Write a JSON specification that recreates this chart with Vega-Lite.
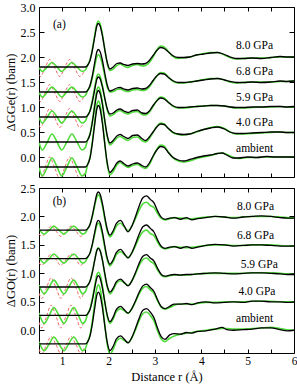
{
"$schema":"https://vega.github.io/schema/vega-lite/v6.json",
"background":"white",
"padding":{"left":3,"right":2,"top":0,"bottom":0},
"spacing":3,
"config":{"view":{"stroke":"black","strokeWidth":1},"font":"Liberation Serif",
"axis":{"grid":false,"domain":false,"tickColor":"black","labelColor":"black","titleColor":"black","labelFont":"Liberation Serif","titleFont":"Liberation Serif","labelFontSize":12,"titleFontSize":12.5,"titleFontWeight":"normal"},
"text":{"font":"Liberation Serif"}},
"data":{"values":[
{"g":"a","s":"k","p":"8.0","r":0.5,"y":1.8},{"g":"a","s":"k","p":"8.0","r":1.5,"y":1.8},{"g":"a","s":"k","p":"8.0","r":1.55,"y":1.835},{"g":"a","s":"k","p":"8.0","r":1.6,"y":1.93},{"g":"a","s":"k","p":"8.0","r":1.65,"y":2.13},{"g":"a","s":"k","p":"8.0","r":1.7,"y":2.39},{"g":"a","s":"k","p":"8.0","r":1.75,"y":2.63},{"g":"a","s":"k","p":"8.0","r":1.78,"y":2.67},{"g":"a","s":"k","p":"8.0","r":1.82,"y":2.615},{"g":"a","s":"k","p":"8.0","r":1.87,"y":2.415},{"g":"a","s":"k","p":"8.0","r":1.92,"y":2.142},{"g":"a","s":"k","p":"8.0","r":1.97,"y":1.9},{"g":"a","s":"k","p":"8.0","r":2.03,"y":1.76},{"g":"a","s":"k","p":"8.0","r":2.1,"y":1.8},{"g":"a","s":"k","p":"8.0","r":2.18,"y":1.87},{"g":"a","s":"k","p":"8.0","r":2.25,"y":1.88},{"g":"a","s":"k","p":"8.0","r":2.33,"y":1.85},{"g":"a","s":"k","p":"8.0","r":2.42,"y":1.83},{"g":"a","s":"k","p":"8.0","r":2.52,"y":1.86},{"g":"a","s":"k","p":"8.0","r":2.62,"y":1.87},{"g":"a","s":"k","p":"8.0","r":2.72,"y":1.86},{"g":"a","s":"k","p":"8.0","r":2.8,"y":1.87},{"g":"a","s":"k","p":"8.0","r":2.88,"y":1.93},{"g":"a","s":"k","p":"8.0","r":2.96,"y":2.03},{"g":"a","s":"k","p":"8.0","r":3.04,"y":2.13},{"g":"a","s":"k","p":"8.0","r":3.12,"y":2.19},{"g":"a","s":"k","p":"8.0","r":3.2,"y":2.17},{"g":"a","s":"k","p":"8.0","r":3.28,"y":2.11},{"g":"a","s":"k","p":"8.0","r":3.38,"y":2.03},{"g":"a","s":"k","p":"8.0","r":3.5,"y":1.99},{"g":"a","s":"k","p":"8.0","r":3.62,"y":1.99},{"g":"a","s":"k","p":"8.0","r":3.75,"y":2.0},{"g":"a","s":"k","p":"8.0","r":3.9,"y":2.04},{"g":"a","s":"k","p":"8.0","r":4.05,"y":2.06},{"g":"a","s":"k","p":"8.0","r":4.2,"y":2.08},{"g":"a","s":"k","p":"8.0","r":4.35,"y":2.09},{"g":"a","s":"k","p":"8.0","r":4.5,"y":2.05},{"g":"a","s":"k","p":"8.0","r":4.62,"y":2.0},{"g":"a","s":"k","p":"8.0","r":4.75,"y":1.97},{"g":"a","s":"k","p":"8.0","r":4.9,"y":1.97},{"g":"a","s":"k","p":"8.0","r":5.1,"y":1.98},{"g":"a","s":"k","p":"8.0","r":5.3,"y":1.97},{"g":"a","s":"k","p":"8.0","r":5.5,"y":1.99},{"g":"a","s":"k","p":"8.0","r":5.7,"y":2.01},{"g":"a","s":"k","p":"8.0","r":5.85,"y":2.0},{"g":"a","s":"k","p":"8.0","r":6.0,"y":2.0},
{"g":"a","s":"k","p":"6.8","r":0.5,"y":1.3},{"g":"a","s":"k","p":"6.8","r":1.5,"y":1.3},{"g":"a","s":"k","p":"6.8","r":1.55,"y":1.334},{"g":"a","s":"k","p":"6.8","r":1.6,"y":1.43},{"g":"a","s":"k","p":"6.8","r":1.65,"y":1.62},{"g":"a","s":"k","p":"6.8","r":1.7,"y":1.88},{"g":"a","s":"k","p":"6.8","r":1.75,"y":2.11},{"g":"a","s":"k","p":"6.8","r":1.78,"y":2.15},{"g":"a","s":"k","p":"6.8","r":1.82,"y":2.1},{"g":"a","s":"k","p":"6.8","r":1.87,"y":1.92},{"g":"a","s":"k","p":"6.8","r":1.92,"y":1.67},{"g":"a","s":"k","p":"6.8","r":1.97,"y":1.445},{"g":"a","s":"k","p":"6.8","r":2.03,"y":1.32},{"g":"a","s":"k","p":"6.8","r":2.1,"y":1.34},{"g":"a","s":"k","p":"6.8","r":2.18,"y":1.38},{"g":"a","s":"k","p":"6.8","r":2.25,"y":1.39},{"g":"a","s":"k","p":"6.8","r":2.33,"y":1.36},{"g":"a","s":"k","p":"6.8","r":2.42,"y":1.34},{"g":"a","s":"k","p":"6.8","r":2.52,"y":1.37},{"g":"a","s":"k","p":"6.8","r":2.62,"y":1.38},{"g":"a","s":"k","p":"6.8","r":2.72,"y":1.36},{"g":"a","s":"k","p":"6.8","r":2.8,"y":1.37},{"g":"a","s":"k","p":"6.8","r":2.88,"y":1.43},{"g":"a","s":"k","p":"6.8","r":2.96,"y":1.53},{"g":"a","s":"k","p":"6.8","r":3.04,"y":1.62},{"g":"a","s":"k","p":"6.8","r":3.12,"y":1.67},{"g":"a","s":"k","p":"6.8","r":3.2,"y":1.66},{"g":"a","s":"k","p":"6.8","r":3.28,"y":1.6},{"g":"a","s":"k","p":"6.8","r":3.38,"y":1.53},{"g":"a","s":"k","p":"6.8","r":3.5,"y":1.49},{"g":"a","s":"k","p":"6.8","r":3.62,"y":1.49},{"g":"a","s":"k","p":"6.8","r":3.75,"y":1.5},{"g":"a","s":"k","p":"6.8","r":3.9,"y":1.52},{"g":"a","s":"k","p":"6.8","r":4.05,"y":1.54},{"g":"a","s":"k","p":"6.8","r":4.2,"y":1.56},{"g":"a","s":"k","p":"6.8","r":4.35,"y":1.57},{"g":"a","s":"k","p":"6.8","r":4.5,"y":1.54},{"g":"a","s":"k","p":"6.8","r":4.62,"y":1.51},{"g":"a","s":"k","p":"6.8","r":4.75,"y":1.49},{"g":"a","s":"k","p":"6.8","r":4.9,"y":1.49},{"g":"a","s":"k","p":"6.8","r":5.1,"y":1.5},{"g":"a","s":"k","p":"6.8","r":5.3,"y":1.49},{"g":"a","s":"k","p":"6.8","r":5.5,"y":1.5},{"g":"a","s":"k","p":"6.8","r":5.7,"y":1.52},{"g":"a","s":"k","p":"6.8","r":5.85,"y":1.51},{"g":"a","s":"k","p":"6.8","r":6.0,"y":1.52},
{"g":"a","s":"k","p":"5.9","r":0.5,"y":0.8},{"g":"a","s":"k","p":"5.9","r":1.5,"y":0.8},{"g":"a","s":"k","p":"5.9","r":1.55,"y":0.832},{"g":"a","s":"k","p":"5.9","r":1.6,"y":0.92},{"g":"a","s":"k","p":"5.9","r":1.65,"y":1.1},{"g":"a","s":"k","p":"5.9","r":1.7,"y":1.34},{"g":"a","s":"k","p":"5.9","r":1.75,"y":1.56},{"g":"a","s":"k","p":"5.9","r":1.78,"y":1.6},{"g":"a","s":"k","p":"5.9","r":1.82,"y":1.56},{"g":"a","s":"k","p":"5.9","r":1.87,"y":1.39},{"g":"a","s":"k","p":"5.9","r":1.92,"y":1.17},{"g":"a","s":"k","p":"5.9","r":1.97,"y":0.97},{"g":"a","s":"k","p":"5.9","r":2.03,"y":0.86},{"g":"a","s":"k","p":"5.9","r":2.1,"y":0.88},{"g":"a","s":"k","p":"5.9","r":2.18,"y":0.94},{"g":"a","s":"k","p":"5.9","r":2.25,"y":0.96},{"g":"a","s":"k","p":"5.9","r":2.33,"y":0.92},{"g":"a","s":"k","p":"5.9","r":2.42,"y":0.89},{"g":"a","s":"k","p":"5.9","r":2.52,"y":0.93},{"g":"a","s":"k","p":"5.9","r":2.62,"y":0.94},{"g":"a","s":"k","p":"5.9","r":2.72,"y":0.88},{"g":"a","s":"k","p":"5.9","r":2.8,"y":0.87},{"g":"a","s":"k","p":"5.9","r":2.88,"y":0.92},{"g":"a","s":"k","p":"5.9","r":2.96,"y":1.03},{"g":"a","s":"k","p":"5.9","r":3.04,"y":1.12},{"g":"a","s":"k","p":"5.9","r":3.12,"y":1.18},{"g":"a","s":"k","p":"5.9","r":3.2,"y":1.16},{"g":"a","s":"k","p":"5.9","r":3.28,"y":1.1},{"g":"a","s":"k","p":"5.9","r":3.38,"y":1.03},{"g":"a","s":"k","p":"5.9","r":3.5,"y":0.99},{"g":"a","s":"k","p":"5.9","r":3.62,"y":0.99},{"g":"a","s":"k","p":"5.9","r":3.75,"y":1.0},{"g":"a","s":"k","p":"5.9","r":3.9,"y":1.01},{"g":"a","s":"k","p":"5.9","r":4.05,"y":1.02},{"g":"a","s":"k","p":"5.9","r":4.2,"y":1.03},{"g":"a","s":"k","p":"5.9","r":4.35,"y":1.03},{"g":"a","s":"k","p":"5.9","r":4.5,"y":1.02},{"g":"a","s":"k","p":"5.9","r":4.62,"y":1.0},{"g":"a","s":"k","p":"5.9","r":4.75,"y":0.99},{"g":"a","s":"k","p":"5.9","r":4.9,"y":0.99},{"g":"a","s":"k","p":"5.9","r":5.1,"y":1.0},{"g":"a","s":"k","p":"5.9","r":5.3,"y":1.0},{"g":"a","s":"k","p":"5.9","r":5.5,"y":1.01},{"g":"a","s":"k","p":"5.9","r":5.7,"y":1.01},{"g":"a","s":"k","p":"5.9","r":5.85,"y":1.0},{"g":"a","s":"k","p":"5.9","r":6.0,"y":1.01},
{"g":"a","s":"k","p":"4.0","r":0.5,"y":0.3},{"g":"a","s":"k","p":"4.0","r":1.5,"y":0.3},{"g":"a","s":"k","p":"4.0","r":1.55,"y":0.34},{"g":"a","s":"k","p":"4.0","r":1.6,"y":0.45},{"g":"a","s":"k","p":"4.0","r":1.65,"y":0.69},{"g":"a","s":"k","p":"4.0","r":1.7,"y":1.0},{"g":"a","s":"k","p":"4.0","r":1.75,"y":1.28},{"g":"a","s":"k","p":"4.0","r":1.78,"y":1.33},{"g":"a","s":"k","p":"4.0","r":1.82,"y":1.27},{"g":"a","s":"k","p":"4.0","r":1.87,"y":1.04},{"g":"a","s":"k","p":"4.0","r":1.92,"y":0.72},{"g":"a","s":"k","p":"4.0","r":1.97,"y":0.44},{"g":"a","s":"k","p":"4.0","r":2.03,"y":0.28},{"g":"a","s":"k","p":"4.0","r":2.1,"y":0.33},{"g":"a","s":"k","p":"4.0","r":2.18,"y":0.42},{"g":"a","s":"k","p":"4.0","r":2.25,"y":0.45},{"g":"a","s":"k","p":"4.0","r":2.33,"y":0.41},{"g":"a","s":"k","p":"4.0","r":2.42,"y":0.37},{"g":"a","s":"k","p":"4.0","r":2.52,"y":0.43},{"g":"a","s":"k","p":"4.0","r":2.62,"y":0.44},{"g":"a","s":"k","p":"4.0","r":2.72,"y":0.37},{"g":"a","s":"k","p":"4.0","r":2.8,"y":0.33},{"g":"a","s":"k","p":"4.0","r":2.88,"y":0.4},{"g":"a","s":"k","p":"4.0","r":2.96,"y":0.5},{"g":"a","s":"k","p":"4.0","r":3.04,"y":0.6},{"g":"a","s":"k","p":"4.0","r":3.12,"y":0.66},{"g":"a","s":"k","p":"4.0","r":3.2,"y":0.65},{"g":"a","s":"k","p":"4.0","r":3.28,"y":0.58},{"g":"a","s":"k","p":"4.0","r":3.38,"y":0.5},{"g":"a","s":"k","p":"4.0","r":3.5,"y":0.46},{"g":"a","s":"k","p":"4.0","r":3.62,"y":0.45},{"g":"a","s":"k","p":"4.0","r":3.75,"y":0.46},{"g":"a","s":"k","p":"4.0","r":3.9,"y":0.51},{"g":"a","s":"k","p":"4.0","r":4.05,"y":0.55},{"g":"a","s":"k","p":"4.0","r":4.2,"y":0.58},{"g":"a","s":"k","p":"4.0","r":4.35,"y":0.6},{"g":"a","s":"k","p":"4.0","r":4.5,"y":0.56},{"g":"a","s":"k","p":"4.0","r":4.62,"y":0.5},{"g":"a","s":"k","p":"4.0","r":4.75,"y":0.47},{"g":"a","s":"k","p":"4.0","r":4.9,"y":0.47},{"g":"a","s":"k","p":"4.0","r":5.1,"y":0.48},{"g":"a","s":"k","p":"4.0","r":5.3,"y":0.49},{"g":"a","s":"k","p":"4.0","r":5.5,"y":0.5},{"g":"a","s":"k","p":"4.0","r":5.7,"y":0.5},{"g":"a","s":"k","p":"4.0","r":5.85,"y":0.49},{"g":"a","s":"k","p":"4.0","r":6.0,"y":0.49},
{"g":"a","s":"k","p":"amb","r":0.5,"y":-0.2},{"g":"a","s":"k","p":"amb","r":1.5,"y":-0.2},{"g":"a","s":"k","p":"amb","r":1.55,"y":-0.15},{"g":"a","s":"k","p":"amb","r":1.6,"y":-0.02},{"g":"a","s":"k","p":"amb","r":1.65,"y":0.27},{"g":"a","s":"k","p":"amb","r":1.7,"y":0.64},{"g":"a","s":"k","p":"amb","r":1.75,"y":0.97},{"g":"a","s":"k","p":"amb","r":1.78,"y":1.03},{"g":"a","s":"k","p":"amb","r":1.82,"y":0.95},{"g":"a","s":"k","p":"amb","r":1.87,"y":0.655},{"g":"a","s":"k","p":"amb","r":1.92,"y":0.25},{"g":"a","s":"k","p":"amb","r":1.97,"y":-0.11},{"g":"a","s":"k","p":"amb","r":2.03,"y":-0.31},{"g":"a","s":"k","p":"amb","r":2.1,"y":-0.24},{"g":"a","s":"k","p":"amb","r":2.18,"y":-0.12},{"g":"a","s":"k","p":"amb","r":2.25,"y":-0.08},{"g":"a","s":"k","p":"amb","r":2.33,"y":-0.13},{"g":"a","s":"k","p":"amb","r":2.42,"y":-0.18},{"g":"a","s":"k","p":"amb","r":2.52,"y":-0.14},{"g":"a","s":"k","p":"amb","r":2.62,"y":-0.12},{"g":"a","s":"k","p":"amb","r":2.72,"y":-0.17},{"g":"a","s":"k","p":"amb","r":2.8,"y":-0.2},{"g":"a","s":"k","p":"amb","r":2.88,"y":-0.12},{"g":"a","s":"k","p":"amb","r":2.96,"y":0.02},{"g":"a","s":"k","p":"amb","r":3.04,"y":0.14},{"g":"a","s":"k","p":"amb","r":3.12,"y":0.21},{"g":"a","s":"k","p":"amb","r":3.2,"y":0.19},{"g":"a","s":"k","p":"amb","r":3.28,"y":0.1},{"g":"a","s":"k","p":"amb","r":3.38,"y":0.0},{"g":"a","s":"k","p":"amb","r":3.5,"y":-0.06},{"g":"a","s":"k","p":"amb","r":3.62,"y":-0.08},{"g":"a","s":"k","p":"amb","r":3.75,"y":-0.05},{"g":"a","s":"k","p":"amb","r":3.9,"y":-0.01},{"g":"a","s":"k","p":"amb","r":4.05,"y":0.02},{"g":"a","s":"k","p":"amb","r":4.2,"y":0.04},{"g":"a","s":"k","p":"amb","r":4.35,"y":0.07},{"g":"a","s":"k","p":"amb","r":4.45,"y":0.08},{"g":"a","s":"k","p":"amb","r":4.55,"y":0.04},{"g":"a","s":"k","p":"amb","r":4.68,"y":-0.02},{"g":"a","s":"k","p":"amb","r":4.8,"y":-0.02},{"g":"a","s":"k","p":"amb","r":5.0,"y":0.0},{"g":"a","s":"k","p":"amb","r":5.2,"y":-0.01},{"g":"a","s":"k","p":"amb","r":5.4,"y":0.01},{"g":"a","s":"k","p":"amb","r":5.6,"y":0.0},{"g":"a","s":"k","p":"amb","r":5.8,"y":0.0},{"g":"a","s":"k","p":"amb","r":6.0,"y":0.0},

{"g":"a","s":"g","p":"8.0","r":0.5,"y":1.8},{"g":"a","s":"g","p":"8.0","r":0.57,"y":1.71},{"g":"a","s":"g","p":"8.0","r":0.68,"y":1.8},{"g":"a","s":"g","p":"8.0","r":0.78,"y":1.89},{"g":"a","s":"g","p":"8.0","r":0.89,"y":1.8},{"g":"a","s":"g","p":"8.0","r":0.99,"y":1.71},{"g":"a","s":"g","p":"8.0","r":1.1,"y":1.8},{"g":"a","s":"g","p":"8.0","r":1.21,"y":1.89},{"g":"a","s":"g","p":"8.0","r":1.32,"y":1.8},{"g":"a","s":"g","p":"8.0","r":1.43,"y":1.71},{"g":"a","s":"g","p":"8.0","r":1.5,"y":1.74},{"g":"a","s":"g","p":"8.0","r":1.55,"y":1.84},{"g":"a","s":"g","p":"8.0","r":1.6,"y":1.94},{"g":"a","s":"g","p":"8.0","r":1.65,"y":2.15},{"g":"a","s":"g","p":"8.0","r":1.7,"y":2.43},{"g":"a","s":"g","p":"8.0","r":1.75,"y":2.67},{"g":"a","s":"g","p":"8.0","r":1.78,"y":2.72},{"g":"a","s":"g","p":"8.0","r":1.82,"y":2.66},{"g":"a","s":"g","p":"8.0","r":1.87,"y":2.44},{"g":"a","s":"g","p":"8.0","r":1.92,"y":2.15},{"g":"a","s":"g","p":"8.0","r":1.97,"y":1.88},{"g":"a","s":"g","p":"8.0","r":2.03,"y":1.73},{"g":"a","s":"g","p":"8.0","r":2.1,"y":1.76},{"g":"a","s":"g","p":"8.0","r":2.18,"y":1.83},{"g":"a","s":"g","p":"8.0","r":2.25,"y":1.86},{"g":"a","s":"g","p":"8.0","r":2.33,"y":1.82},{"g":"a","s":"g","p":"8.0","r":2.42,"y":1.79},{"g":"a","s":"g","p":"8.0","r":2.52,"y":1.83},{"g":"a","s":"g","p":"8.0","r":2.62,"y":1.85},{"g":"a","s":"g","p":"8.0","r":2.72,"y":1.82},{"g":"a","s":"g","p":"8.0","r":2.8,"y":1.83},{"g":"a","s":"g","p":"8.0","r":2.88,"y":1.89},{"g":"a","s":"g","p":"8.0","r":2.96,"y":2.0},{"g":"a","s":"g","p":"8.0","r":3.04,"y":2.14},{"g":"a","s":"g","p":"8.0","r":3.12,"y":2.22},{"g":"a","s":"g","p":"8.0","r":3.2,"y":2.2},{"g":"a","s":"g","p":"8.0","r":3.28,"y":2.12},{"g":"a","s":"g","p":"8.0","r":3.38,"y":2.02},{"g":"a","s":"g","p":"8.0","r":3.5,"y":1.97},{"g":"a","s":"g","p":"8.0","r":3.62,"y":1.98},{"g":"a","s":"g","p":"8.0","r":3.75,"y":2.0},{"g":"a","s":"g","p":"8.0","r":3.9,"y":2.04},{"g":"a","s":"g","p":"8.0","r":4.05,"y":2.07},{"g":"a","s":"g","p":"8.0","r":4.2,"y":2.09},{"g":"a","s":"g","p":"8.0","r":4.35,"y":2.09},{"g":"a","s":"g","p":"8.0","r":4.5,"y":2.04},{"g":"a","s":"g","p":"8.0","r":4.62,"y":1.99},{"g":"a","s":"g","p":"8.0","r":4.75,"y":1.96},{"g":"a","s":"g","p":"8.0","r":4.9,"y":1.97},{"g":"a","s":"g","p":"8.0","r":5.1,"y":1.98},{"g":"a","s":"g","p":"8.0","r":5.3,"y":1.98},{"g":"a","s":"g","p":"8.0","r":5.5,"y":1.99},{"g":"a","s":"g","p":"8.0","r":5.7,"y":2.0},{"g":"a","s":"g","p":"8.0","r":5.85,"y":2.0},{"g":"a","s":"g","p":"8.0","r":6.0,"y":2.0},
{"g":"a","s":"g","p":"6.8","r":0.5,"y":1.3},{"g":"a","s":"g","p":"6.8","r":0.57,"y":1.2},{"g":"a","s":"g","p":"6.8","r":0.68,"y":1.3},{"g":"a","s":"g","p":"6.8","r":0.78,"y":1.4},{"g":"a","s":"g","p":"6.8","r":0.89,"y":1.3},{"g":"a","s":"g","p":"6.8","r":0.99,"y":1.2},{"g":"a","s":"g","p":"6.8","r":1.1,"y":1.3},{"g":"a","s":"g","p":"6.8","r":1.21,"y":1.4},{"g":"a","s":"g","p":"6.8","r":1.32,"y":1.3},{"g":"a","s":"g","p":"6.8","r":1.43,"y":1.2},{"g":"a","s":"g","p":"6.8","r":1.5,"y":1.23},{"g":"a","s":"g","p":"6.8","r":1.55,"y":1.33},{"g":"a","s":"g","p":"6.8","r":1.6,"y":1.41},{"g":"a","s":"g","p":"6.8","r":1.65,"y":1.585},{"g":"a","s":"g","p":"6.8","r":1.7,"y":1.81},{"g":"a","s":"g","p":"6.8","r":1.75,"y":2.01},{"g":"a","s":"g","p":"6.8","r":1.78,"y":2.05},{"g":"a","s":"g","p":"6.8","r":1.82,"y":2.0},{"g":"a","s":"g","p":"6.8","r":1.87,"y":1.84},{"g":"a","s":"g","p":"6.8","r":1.92,"y":1.615},{"g":"a","s":"g","p":"6.8","r":1.97,"y":1.41},{"g":"a","s":"g","p":"6.8","r":2.03,"y":1.3},{"g":"a","s":"g","p":"6.8","r":2.1,"y":1.31},{"g":"a","s":"g","p":"6.8","r":2.18,"y":1.35},{"g":"a","s":"g","p":"6.8","r":2.25,"y":1.36},{"g":"a","s":"g","p":"6.8","r":2.33,"y":1.33},{"g":"a","s":"g","p":"6.8","r":2.42,"y":1.31},{"g":"a","s":"g","p":"6.8","r":2.52,"y":1.34},{"g":"a","s":"g","p":"6.8","r":2.62,"y":1.35},{"g":"a","s":"g","p":"6.8","r":2.72,"y":1.33},{"g":"a","s":"g","p":"6.8","r":2.8,"y":1.34},{"g":"a","s":"g","p":"6.8","r":2.88,"y":1.4},{"g":"a","s":"g","p":"6.8","r":2.96,"y":1.51},{"g":"a","s":"g","p":"6.8","r":3.04,"y":1.62},{"g":"a","s":"g","p":"6.8","r":3.12,"y":1.69},{"g":"a","s":"g","p":"6.8","r":3.2,"y":1.68},{"g":"a","s":"g","p":"6.8","r":3.28,"y":1.61},{"g":"a","s":"g","p":"6.8","r":3.38,"y":1.52},{"g":"a","s":"g","p":"6.8","r":3.5,"y":1.48},{"g":"a","s":"g","p":"6.8","r":3.62,"y":1.48},{"g":"a","s":"g","p":"6.8","r":3.75,"y":1.5},{"g":"a","s":"g","p":"6.8","r":3.9,"y":1.52},{"g":"a","s":"g","p":"6.8","r":4.05,"y":1.55},{"g":"a","s":"g","p":"6.8","r":4.2,"y":1.57},{"g":"a","s":"g","p":"6.8","r":4.35,"y":1.57},{"g":"a","s":"g","p":"6.8","r":4.5,"y":1.54},{"g":"a","s":"g","p":"6.8","r":4.62,"y":1.5},{"g":"a","s":"g","p":"6.8","r":4.75,"y":1.48},{"g":"a","s":"g","p":"6.8","r":4.9,"y":1.49},{"g":"a","s":"g","p":"6.8","r":5.1,"y":1.5},{"g":"a","s":"g","p":"6.8","r":5.3,"y":1.5},{"g":"a","s":"g","p":"6.8","r":5.5,"y":1.5},{"g":"a","s":"g","p":"6.8","r":5.7,"y":1.51},{"g":"a","s":"g","p":"6.8","r":5.85,"y":1.51},{"g":"a","s":"g","p":"6.8","r":6.0,"y":1.52},
{"g":"a","s":"g","p":"5.9","r":0.5,"y":0.8},{"g":"a","s":"g","p":"5.9","r":0.57,"y":0.68},{"g":"a","s":"g","p":"5.9","r":0.68,"y":0.8},{"g":"a","s":"g","p":"5.9","r":0.78,"y":0.92},{"g":"a","s":"g","p":"5.9","r":0.89,"y":0.8},{"g":"a","s":"g","p":"5.9","r":0.99,"y":0.68},{"g":"a","s":"g","p":"5.9","r":1.1,"y":0.8},{"g":"a","s":"g","p":"5.9","r":1.21,"y":0.92},{"g":"a","s":"g","p":"5.9","r":1.32,"y":0.8},{"g":"a","s":"g","p":"5.9","r":1.43,"y":0.68},{"g":"a","s":"g","p":"5.9","r":1.5,"y":0.72},{"g":"a","s":"g","p":"5.9","r":1.55,"y":0.834},{"g":"a","s":"g","p":"5.9","r":1.6,"y":0.93},{"g":"a","s":"g","p":"5.9","r":1.65,"y":1.13},{"g":"a","s":"g","p":"5.9","r":1.7,"y":1.385},{"g":"a","s":"g","p":"5.9","r":1.75,"y":1.62},{"g":"a","s":"g","p":"5.9","r":1.78,"y":1.66},{"g":"a","s":"g","p":"5.9","r":1.82,"y":1.61},{"g":"a","s":"g","p":"5.9","r":1.87,"y":1.425},{"g":"a","s":"g","p":"5.9","r":1.92,"y":1.17},{"g":"a","s":"g","p":"5.9","r":1.97,"y":0.95},{"g":"a","s":"g","p":"5.9","r":2.03,"y":0.82},{"g":"a","s":"g","p":"5.9","r":2.1,"y":0.85},{"g":"a","s":"g","p":"5.9","r":2.18,"y":0.91},{"g":"a","s":"g","p":"5.9","r":2.25,"y":0.93},{"g":"a","s":"g","p":"5.9","r":2.33,"y":0.89},{"g":"a","s":"g","p":"5.9","r":2.42,"y":0.86},{"g":"a","s":"g","p":"5.9","r":2.52,"y":0.9},{"g":"a","s":"g","p":"5.9","r":2.62,"y":0.91},{"g":"a","s":"g","p":"5.9","r":2.72,"y":0.85},{"g":"a","s":"g","p":"5.9","r":2.8,"y":0.84},{"g":"a","s":"g","p":"5.9","r":2.88,"y":0.9},{"g":"a","s":"g","p":"5.9","r":2.96,"y":1.01},{"g":"a","s":"g","p":"5.9","r":3.04,"y":1.13},{"g":"a","s":"g","p":"5.9","r":3.12,"y":1.2},{"g":"a","s":"g","p":"5.9","r":3.2,"y":1.18},{"g":"a","s":"g","p":"5.9","r":3.28,"y":1.11},{"g":"a","s":"g","p":"5.9","r":3.38,"y":1.02},{"g":"a","s":"g","p":"5.9","r":3.5,"y":0.98},{"g":"a","s":"g","p":"5.9","r":3.62,"y":0.98},{"g":"a","s":"g","p":"5.9","r":3.75,"y":0.99},{"g":"a","s":"g","p":"5.9","r":3.9,"y":1.01},{"g":"a","s":"g","p":"5.9","r":4.05,"y":1.02},{"g":"a","s":"g","p":"5.9","r":4.2,"y":1.03},{"g":"a","s":"g","p":"5.9","r":4.35,"y":1.03},{"g":"a","s":"g","p":"5.9","r":4.5,"y":1.02},{"g":"a","s":"g","p":"5.9","r":4.62,"y":1.0},{"g":"a","s":"g","p":"5.9","r":4.75,"y":0.98},{"g":"a","s":"g","p":"5.9","r":4.9,"y":0.98},{"g":"a","s":"g","p":"5.9","r":5.1,"y":0.99},{"g":"a","s":"g","p":"5.9","r":5.3,"y":1.0},{"g":"a","s":"g","p":"5.9","r":5.5,"y":1.0},{"g":"a","s":"g","p":"5.9","r":5.7,"y":1.01},{"g":"a","s":"g","p":"5.9","r":5.85,"y":1.0},{"g":"a","s":"g","p":"5.9","r":6.0,"y":1.0},
{"g":"a","s":"g","p":"4.0","r":0.5,"y":0.3},{"g":"a","s":"g","p":"4.0","r":0.57,"y":0.14},{"g":"a","s":"g","p":"4.0","r":0.68,"y":0.3},{"g":"a","s":"g","p":"4.0","r":0.78,"y":0.46},{"g":"a","s":"g","p":"4.0","r":0.89,"y":0.3},{"g":"a","s":"g","p":"4.0","r":0.99,"y":0.14},{"g":"a","s":"g","p":"4.0","r":1.1,"y":0.3},{"g":"a","s":"g","p":"4.0","r":1.21,"y":0.46},{"g":"a","s":"g","p":"4.0","r":1.32,"y":0.3},{"g":"a","s":"g","p":"4.0","r":1.43,"y":0.14},{"g":"a","s":"g","p":"4.0","r":1.5,"y":0.19},{"g":"a","s":"g","p":"4.0","r":1.55,"y":0.344},{"g":"a","s":"g","p":"4.0","r":1.6,"y":0.465},{"g":"a","s":"g","p":"4.0","r":1.65,"y":0.718},{"g":"a","s":"g","p":"4.0","r":1.7,"y":1.048},{"g":"a","s":"g","p":"4.0","r":1.75,"y":1.345},{"g":"a","s":"g","p":"4.0","r":1.78,"y":1.4},{"g":"a","s":"g","p":"4.0","r":1.82,"y":1.33},{"g":"a","s":"g","p":"4.0","r":1.87,"y":1.075},{"g":"a","s":"g","p":"4.0","r":1.92,"y":0.727},{"g":"a","s":"g","p":"4.0","r":1.97,"y":0.414},{"g":"a","s":"g","p":"4.0","r":2.03,"y":0.24},{"g":"a","s":"g","p":"4.0","r":2.1,"y":0.29},{"g":"a","s":"g","p":"4.0","r":2.18,"y":0.38},{"g":"a","s":"g","p":"4.0","r":2.25,"y":0.41},{"g":"a","s":"g","p":"4.0","r":2.33,"y":0.37},{"g":"a","s":"g","p":"4.0","r":2.42,"y":0.33},{"g":"a","s":"g","p":"4.0","r":2.52,"y":0.39},{"g":"a","s":"g","p":"4.0","r":2.62,"y":0.4},{"g":"a","s":"g","p":"4.0","r":2.72,"y":0.33},{"g":"a","s":"g","p":"4.0","r":2.8,"y":0.3},{"g":"a","s":"g","p":"4.0","r":2.88,"y":0.37},{"g":"a","s":"g","p":"4.0","r":2.96,"y":0.49},{"g":"a","s":"g","p":"4.0","r":3.04,"y":0.61},{"g":"a","s":"g","p":"4.0","r":3.12,"y":0.68},{"g":"a","s":"g","p":"4.0","r":3.2,"y":0.66},{"g":"a","s":"g","p":"4.0","r":3.28,"y":0.58},{"g":"a","s":"g","p":"4.0","r":3.38,"y":0.49},{"g":"a","s":"g","p":"4.0","r":3.5,"y":0.45},{"g":"a","s":"g","p":"4.0","r":3.62,"y":0.44},{"g":"a","s":"g","p":"4.0","r":3.75,"y":0.46},{"g":"a","s":"g","p":"4.0","r":3.9,"y":0.5},{"g":"a","s":"g","p":"4.0","r":4.05,"y":0.55},{"g":"a","s":"g","p":"4.0","r":4.2,"y":0.59},{"g":"a","s":"g","p":"4.0","r":4.35,"y":0.61},{"g":"a","s":"g","p":"4.0","r":4.5,"y":0.57},{"g":"a","s":"g","p":"4.0","r":4.62,"y":0.5},{"g":"a","s":"g","p":"4.0","r":4.75,"y":0.46},{"g":"a","s":"g","p":"4.0","r":4.9,"y":0.46},{"g":"a","s":"g","p":"4.0","r":5.1,"y":0.47},{"g":"a","s":"g","p":"4.0","r":5.3,"y":0.48},{"g":"a","s":"g","p":"4.0","r":5.5,"y":0.49},{"g":"a","s":"g","p":"4.0","r":5.7,"y":0.5},{"g":"a","s":"g","p":"4.0","r":5.85,"y":0.49},{"g":"a","s":"g","p":"4.0","r":6.0,"y":0.49},
{"g":"a","s":"g","p":"amb","r":0.5,"y":-0.2},{"g":"a","s":"g","p":"amb","r":0.57,"y":-0.38},{"g":"a","s":"g","p":"amb","r":0.68,"y":-0.2},{"g":"a","s":"g","p":"amb","r":0.78,"y":-0.02},{"g":"a","s":"g","p":"amb","r":0.89,"y":-0.2},{"g":"a","s":"g","p":"amb","r":0.99,"y":-0.38},{"g":"a","s":"g","p":"amb","r":1.1,"y":-0.2},{"g":"a","s":"g","p":"amb","r":1.21,"y":-0.02},{"g":"a","s":"g","p":"amb","r":1.32,"y":-0.2},{"g":"a","s":"g","p":"amb","r":1.43,"y":-0.38},{"g":"a","s":"g","p":"amb","r":1.5,"y":-0.33},{"g":"a","s":"g","p":"amb","r":1.55,"y":-0.147},{"g":"a","s":"g","p":"amb","r":1.6,"y":-0.002},{"g":"a","s":"g","p":"amb","r":1.65,"y":0.302},{"g":"a","s":"g","p":"amb","r":1.7,"y":0.698},{"g":"a","s":"g","p":"amb","r":1.75,"y":1.054},{"g":"a","s":"g","p":"amb","r":1.78,"y":1.12},{"g":"a","s":"g","p":"amb","r":1.82,"y":1.03},{"g":"a","s":"g","p":"amb","r":1.87,"y":0.706},{"g":"a","s":"g","p":"amb","r":1.92,"y":0.262},{"g":"a","s":"g","p":"amb","r":1.97,"y":-0.138},{"g":"a","s":"g","p":"amb","r":2.03,"y":-0.36},{"g":"a","s":"g","p":"amb","r":2.1,"y":-0.29},{"g":"a","s":"g","p":"amb","r":2.18,"y":-0.16},{"g":"a","s":"g","p":"amb","r":2.25,"y":-0.11},{"g":"a","s":"g","p":"amb","r":2.33,"y":-0.16},{"g":"a","s":"g","p":"amb","r":2.42,"y":-0.21},{"g":"a","s":"g","p":"amb","r":2.52,"y":-0.17},{"g":"a","s":"g","p":"amb","r":2.62,"y":-0.15},{"g":"a","s":"g","p":"amb","r":2.72,"y":-0.2},{"g":"a","s":"g","p":"amb","r":2.8,"y":-0.23},{"g":"a","s":"g","p":"amb","r":2.88,"y":-0.15},{"g":"a","s":"g","p":"amb","r":2.96,"y":0.0},{"g":"a","s":"g","p":"amb","r":3.04,"y":0.15},{"g":"a","s":"g","p":"amb","r":3.12,"y":0.24},{"g":"a","s":"g","p":"amb","r":3.2,"y":0.22},{"g":"a","s":"g","p":"amb","r":3.28,"y":0.11},{"g":"a","s":"g","p":"amb","r":3.38,"y":-0.01},{"g":"a","s":"g","p":"amb","r":3.5,"y":-0.08},{"g":"a","s":"g","p":"amb","r":3.62,"y":-0.1},{"g":"a","s":"g","p":"amb","r":3.75,"y":-0.08},{"g":"a","s":"g","p":"amb","r":3.9,"y":-0.03},{"g":"a","s":"g","p":"amb","r":4.05,"y":0.0},{"g":"a","s":"g","p":"amb","r":4.2,"y":0.03},{"g":"a","s":"g","p":"amb","r":4.35,"y":0.07},{"g":"a","s":"g","p":"amb","r":4.45,"y":0.08},{"g":"a","s":"g","p":"amb","r":4.55,"y":0.05},{"g":"a","s":"g","p":"amb","r":4.68,"y":0.0},{"g":"a","s":"g","p":"amb","r":4.8,"y":-0.03},{"g":"a","s":"g","p":"amb","r":5.0,"y":-0.01},{"g":"a","s":"g","p":"amb","r":5.2,"y":-0.01},{"g":"a","s":"g","p":"amb","r":5.4,"y":0.0},{"g":"a","s":"g","p":"amb","r":5.6,"y":0.0},{"g":"a","s":"g","p":"amb","r":5.8,"y":0.0},{"g":"a","s":"g","p":"amb","r":6.0,"y":0.0},

{"g":"a","s":"r","p":"8.0","r":0.5,"y":1.644},{"g":"a","s":"r","p":"8.0","r":0.53,"y":1.61},{"g":"a","s":"r","p":"8.0","r":0.63,"y":1.78},{"g":"a","s":"r","p":"8.0","r":0.73,"y":1.95},{"g":"a","s":"r","p":"8.0","r":0.84,"y":1.78},{"g":"a","s":"r","p":"8.0","r":0.95,"y":1.61},{"g":"a","s":"r","p":"8.0","r":1.05,"y":1.78},{"g":"a","s":"r","p":"8.0","r":1.16,"y":1.95},{"g":"a","s":"r","p":"8.0","r":1.27,"y":1.78},{"g":"a","s":"r","p":"8.0","r":1.38,"y":1.61},{"g":"a","s":"r","p":"8.0","r":1.47,"y":1.7},
{"g":"a","s":"r","p":"6.8","r":0.5,"y":1.144},{"g":"a","s":"r","p":"6.8","r":0.53,"y":1.11},{"g":"a","s":"r","p":"6.8","r":0.63,"y":1.28},{"g":"a","s":"r","p":"6.8","r":0.73,"y":1.45},{"g":"a","s":"r","p":"6.8","r":0.84,"y":1.28},{"g":"a","s":"r","p":"6.8","r":0.95,"y":1.11},{"g":"a","s":"r","p":"6.8","r":1.05,"y":1.28},{"g":"a","s":"r","p":"6.8","r":1.16,"y":1.45},{"g":"a","s":"r","p":"6.8","r":1.27,"y":1.28},{"g":"a","s":"r","p":"6.8","r":1.38,"y":1.11},{"g":"a","s":"r","p":"6.8","r":1.47,"y":1.2},
{"g":"a","s":"r","p":"5.9","r":0.5,"y":0.63},{"g":"a","s":"r","p":"5.9","r":0.53,"y":0.59},{"g":"a","s":"r","p":"5.9","r":0.63,"y":0.78},{"g":"a","s":"r","p":"5.9","r":0.73,"y":0.97},{"g":"a","s":"r","p":"5.9","r":0.84,"y":0.78},{"g":"a","s":"r","p":"5.9","r":0.95,"y":0.59},{"g":"a","s":"r","p":"5.9","r":1.05,"y":0.78},{"g":"a","s":"r","p":"5.9","r":1.16,"y":0.97},{"g":"a","s":"r","p":"5.9","r":1.27,"y":0.78},{"g":"a","s":"r","p":"5.9","r":1.38,"y":0.59},{"g":"a","s":"r","p":"5.9","r":1.47,"y":0.69},
{"g":"a","s":"r","p":"amb","r":0.5,"y":-0.4},{"g":"a","s":"r","p":"amb","r":0.53,"y":-0.44},{"g":"a","s":"r","p":"amb","r":0.63,"y":-0.22},{"g":"a","s":"r","p":"amb","r":0.73,"y":0.0},{"g":"a","s":"r","p":"amb","r":0.84,"y":-0.22},{"g":"a","s":"r","p":"amb","r":0.95,"y":-0.44},{"g":"a","s":"r","p":"amb","r":1.05,"y":-0.22},{"g":"a","s":"r","p":"amb","r":1.16,"y":0.0},{"g":"a","s":"r","p":"amb","r":1.27,"y":-0.22},{"g":"a","s":"r","p":"amb","r":1.38,"y":-0.44},{"g":"a","s":"r","p":"amb","r":1.47,"y":-0.33},

{"g":"b","s":"k","p":"8.0","r":0.5,"y":1.76},{"g":"b","s":"k","p":"8.0","r":1.5,"y":1.76},{"g":"b","s":"k","p":"8.0","r":1.55,"y":1.787},{"g":"b","s":"k","p":"8.0","r":1.6,"y":1.86},{"g":"b","s":"k","p":"8.0","r":1.65,"y":2.015},{"g":"b","s":"k","p":"8.0","r":1.7,"y":2.216},{"g":"b","s":"k","p":"8.0","r":1.75,"y":2.397},{"g":"b","s":"k","p":"8.0","r":1.78,"y":2.43},{"g":"b","s":"k","p":"8.0","r":1.82,"y":2.384},{"g":"b","s":"k","p":"8.0","r":1.87,"y":2.217},{"g":"b","s":"k","p":"8.0","r":1.92,"y":1.989},{"g":"b","s":"k","p":"8.0","r":1.97,"y":1.784},{"g":"b","s":"k","p":"8.0","r":2.03,"y":1.67},{"g":"b","s":"k","p":"8.0","r":2.1,"y":1.748},{"g":"b","s":"k","p":"8.0","r":2.17,"y":1.878},{"g":"b","s":"k","p":"8.0","r":2.26,"y":1.93},{"g":"b","s":"k","p":"8.0","r":2.34,"y":1.83},{"g":"b","s":"k","p":"8.0","r":2.42,"y":1.73},{"g":"b","s":"k","p":"8.0","r":2.5,"y":1.825},{"g":"b","s":"k","p":"8.0","r":2.58,"y":1.995},{"g":"b","s":"k","p":"8.0","r":2.66,"y":2.184},{"g":"b","s":"k","p":"8.0","r":2.74,"y":2.33},{"g":"b","s":"k","p":"8.0","r":2.82,"y":2.36},{"g":"b","s":"k","p":"8.0","r":2.9,"y":2.3},{"g":"b","s":"k","p":"8.0","r":2.98,"y":2.237},{"g":"b","s":"k","p":"8.0","r":3.06,"y":2.094},{"g":"b","s":"k","p":"8.0","r":3.14,"y":1.983},{"g":"b","s":"k","p":"8.0","r":3.22,"y":1.95},{"g":"b","s":"k","p":"8.0","r":3.32,"y":1.97},{"g":"b","s":"k","p":"8.0","r":3.42,"y":1.98},{"g":"b","s":"k","p":"8.0","r":3.55,"y":1.95},{"g":"b","s":"k","p":"8.0","r":3.68,"y":1.98},{"g":"b","s":"k","p":"8.0","r":3.8,"y":1.94},{"g":"b","s":"k","p":"8.0","r":3.92,"y":1.96},{"g":"b","s":"k","p":"8.0","r":4.1,"y":1.98},{"g":"b","s":"k","p":"8.0","r":4.3,"y":2.0},{"g":"b","s":"k","p":"8.0","r":4.5,"y":1.99},{"g":"b","s":"k","p":"8.0","r":4.7,"y":1.97},{"g":"b","s":"k","p":"8.0","r":4.9,"y":1.99},{"g":"b","s":"k","p":"8.0","r":5.1,"y":2.0},{"g":"b","s":"k","p":"8.0","r":5.3,"y":2.01},{"g":"b","s":"k","p":"8.0","r":5.5,"y":2.0},{"g":"b","s":"k","p":"8.0","r":5.7,"y":1.98},{"g":"b","s":"k","p":"8.0","r":5.85,"y":1.97},{"g":"b","s":"k","p":"8.0","r":6.0,"y":1.97},
{"g":"b","s":"k","p":"6.8","r":0.5,"y":1.26},{"g":"b","s":"k","p":"6.8","r":1.5,"y":1.26},{"g":"b","s":"k","p":"6.8","r":1.55,"y":1.287},{"g":"b","s":"k","p":"6.8","r":1.6,"y":1.36},{"g":"b","s":"k","p":"6.8","r":1.65,"y":1.515},{"g":"b","s":"k","p":"6.8","r":1.7,"y":1.716},{"g":"b","s":"k","p":"6.8","r":1.75,"y":1.897},{"g":"b","s":"k","p":"6.8","r":1.78,"y":1.93},{"g":"b","s":"k","p":"6.8","r":1.82,"y":1.884},{"g":"b","s":"k","p":"6.8","r":1.87,"y":1.714},{"g":"b","s":"k","p":"6.8","r":1.92,"y":1.483},{"g":"b","s":"k","p":"6.8","r":1.97,"y":1.276},{"g":"b","s":"k","p":"6.8","r":2.03,"y":1.16},{"g":"b","s":"k","p":"6.8","r":2.1,"y":1.238},{"g":"b","s":"k","p":"6.8","r":2.17,"y":1.368},{"g":"b","s":"k","p":"6.8","r":2.26,"y":1.42},{"g":"b","s":"k","p":"6.8","r":2.34,"y":1.345},{"g":"b","s":"k","p":"6.8","r":2.42,"y":1.27},{"g":"b","s":"k","p":"6.8","r":2.5,"y":1.357},{"g":"b","s":"k","p":"6.8","r":2.58,"y":1.514},{"g":"b","s":"k","p":"6.8","r":2.66,"y":1.688},{"g":"b","s":"k","p":"6.8","r":2.74,"y":1.82},{"g":"b","s":"k","p":"6.8","r":2.82,"y":1.85},{"g":"b","s":"k","p":"6.8","r":2.9,"y":1.79},{"g":"b","s":"k","p":"6.8","r":2.98,"y":1.727},{"g":"b","s":"k","p":"6.8","r":3.06,"y":1.584},{"g":"b","s":"k","p":"6.8","r":3.14,"y":1.473},{"g":"b","s":"k","p":"6.8","r":3.22,"y":1.44},{"g":"b","s":"k","p":"6.8","r":3.32,"y":1.46},{"g":"b","s":"k","p":"6.8","r":3.42,"y":1.47},{"g":"b","s":"k","p":"6.8","r":3.55,"y":1.44},{"g":"b","s":"k","p":"6.8","r":3.68,"y":1.47},{"g":"b","s":"k","p":"6.8","r":3.8,"y":1.44},{"g":"b","s":"k","p":"6.8","r":3.92,"y":1.46},{"g":"b","s":"k","p":"6.8","r":4.1,"y":1.49},{"g":"b","s":"k","p":"6.8","r":4.3,"y":1.51},{"g":"b","s":"k","p":"6.8","r":4.5,"y":1.5},{"g":"b","s":"k","p":"6.8","r":4.7,"y":1.48},{"g":"b","s":"k","p":"6.8","r":4.9,"y":1.49},{"g":"b","s":"k","p":"6.8","r":5.1,"y":1.5},{"g":"b","s":"k","p":"6.8","r":5.3,"y":1.5},{"g":"b","s":"k","p":"6.8","r":5.5,"y":1.49},{"g":"b","s":"k","p":"6.8","r":5.7,"y":1.48},{"g":"b","s":"k","p":"6.8","r":5.85,"y":1.48},{"g":"b","s":"k","p":"6.8","r":6.0,"y":1.48},
{"g":"b","s":"k","p":"5.9","r":0.5,"y":0.76},{"g":"b","s":"k","p":"5.9","r":1.5,"y":0.76},{"g":"b","s":"k","p":"5.9","r":1.55,"y":0.787},{"g":"b","s":"k","p":"5.9","r":1.6,"y":0.862},{"g":"b","s":"k","p":"5.9","r":1.65,"y":1.018},{"g":"b","s":"k","p":"5.9","r":1.7,"y":1.222},{"g":"b","s":"k","p":"5.9","r":1.75,"y":1.406},{"g":"b","s":"k","p":"5.9","r":1.78,"y":1.44},{"g":"b","s":"k","p":"5.9","r":1.82,"y":1.394},{"g":"b","s":"k","p":"5.9","r":1.87,"y":1.224},{"g":"b","s":"k","p":"5.9","r":1.92,"y":0.993},{"g":"b","s":"k","p":"5.9","r":1.97,"y":0.786},{"g":"b","s":"k","p":"5.9","r":2.03,"y":0.67},{"g":"b","s":"k","p":"5.9","r":2.1,"y":0.739},{"g":"b","s":"k","p":"5.9","r":2.17,"y":0.854},{"g":"b","s":"k","p":"5.9","r":2.26,"y":0.9},{"g":"b","s":"k","p":"5.9","r":2.34,"y":0.84},{"g":"b","s":"k","p":"5.9","r":2.42,"y":0.78},{"g":"b","s":"k","p":"5.9","r":2.5,"y":0.8625},{"g":"b","s":"k","p":"5.9","r":2.58,"y":1.011},{"g":"b","s":"k","p":"5.9","r":2.66,"y":1.176},{"g":"b","s":"k","p":"5.9","r":2.74,"y":1.3},{"g":"b","s":"k","p":"5.9","r":2.82,"y":1.33},{"g":"b","s":"k","p":"5.9","r":2.9,"y":1.27},{"g":"b","s":"k","p":"5.9","r":2.98,"y":1.216},{"g":"b","s":"k","p":"5.9","r":3.06,"y":1.083},{"g":"b","s":"k","p":"5.9","r":3.14,"y":0.98},{"g":"b","s":"k","p":"5.9","r":3.22,"y":0.95},{"g":"b","s":"k","p":"5.9","r":3.32,"y":0.97},{"g":"b","s":"k","p":"5.9","r":3.42,"y":0.98},{"g":"b","s":"k","p":"5.9","r":3.55,"y":0.97},{"g":"b","s":"k","p":"5.9","r":3.68,"y":0.98},{"g":"b","s":"k","p":"5.9","r":3.8,"y":0.98},{"g":"b","s":"k","p":"5.9","r":3.92,"y":0.99},{"g":"b","s":"k","p":"5.9","r":4.1,"y":1.0},{"g":"b","s":"k","p":"5.9","r":4.3,"y":1.01},{"g":"b","s":"k","p":"5.9","r":4.5,"y":1.0},{"g":"b","s":"k","p":"5.9","r":4.7,"y":0.99},{"g":"b","s":"k","p":"5.9","r":4.9,"y":1.0},{"g":"b","s":"k","p":"5.9","r":5.1,"y":1.01},{"g":"b","s":"k","p":"5.9","r":5.3,"y":1.01},{"g":"b","s":"k","p":"5.9","r":5.5,"y":1.0},{"g":"b","s":"k","p":"5.9","r":5.7,"y":0.99},{"g":"b","s":"k","p":"5.9","r":5.85,"y":0.98},{"g":"b","s":"k","p":"5.9","r":6.0,"y":0.98},
{"g":"b","s":"k","p":"4.0","r":0.5,"y":0.26},{"g":"b","s":"k","p":"4.0","r":1.5,"y":0.26},{"g":"b","s":"k","p":"4.0","r":1.55,"y":0.288},{"g":"b","s":"k","p":"4.0","r":1.6,"y":0.365},{"g":"b","s":"k","p":"4.0","r":1.65,"y":0.526},{"g":"b","s":"k","p":"4.0","r":1.7,"y":0.736},{"g":"b","s":"k","p":"4.0","r":1.75,"y":0.925},{"g":"b","s":"k","p":"4.0","r":1.78,"y":0.96},{"g":"b","s":"k","p":"4.0","r":1.82,"y":0.911},{"g":"b","s":"k","p":"4.0","r":1.87,"y":0.733},{"g":"b","s":"k","p":"4.0","r":1.92,"y":0.49},{"g":"b","s":"k","p":"4.0","r":1.97,"y":0.2715},{"g":"b","s":"k","p":"4.0","r":2.03,"y":0.15},{"g":"b","s":"k","p":"4.0","r":2.1,"y":0.231},{"g":"b","s":"k","p":"4.0","r":2.17,"y":0.366},{"g":"b","s":"k","p":"4.0","r":2.26,"y":0.42},{"g":"b","s":"k","p":"4.0","r":2.34,"y":0.36},{"g":"b","s":"k","p":"4.0","r":2.42,"y":0.3},{"g":"b","s":"k","p":"4.0","r":2.5,"y":0.3765},{"g":"b","s":"k","p":"4.0","r":2.58,"y":0.514},{"g":"b","s":"k","p":"4.0","r":2.66,"y":0.667},{"g":"b","s":"k","p":"4.0","r":2.74,"y":0.78},{"g":"b","s":"k","p":"4.0","r":2.82,"y":0.81},{"g":"b","s":"k","p":"4.0","r":2.9,"y":0.75},{"g":"b","s":"k","p":"4.0","r":2.98,"y":0.681},{"g":"b","s":"k","p":"4.0","r":3.06,"y":0.53},{"g":"b","s":"k","p":"4.0","r":3.14,"y":0.414},{"g":"b","s":"k","p":"4.0","r":3.22,"y":0.38},{"g":"b","s":"k","p":"4.0","r":3.32,"y":0.42},{"g":"b","s":"k","p":"4.0","r":3.42,"y":0.46},{"g":"b","s":"k","p":"4.0","r":3.55,"y":0.46},{"g":"b","s":"k","p":"4.0","r":3.68,"y":0.47},{"g":"b","s":"k","p":"4.0","r":3.8,"y":0.45},{"g":"b","s":"k","p":"4.0","r":3.92,"y":0.48},{"g":"b","s":"k","p":"4.0","r":4.1,"y":0.5},{"g":"b","s":"k","p":"4.0","r":4.3,"y":0.48},{"g":"b","s":"k","p":"4.0","r":4.5,"y":0.49},{"g":"b","s":"k","p":"4.0","r":4.7,"y":0.5},{"g":"b","s":"k","p":"4.0","r":4.9,"y":0.49},{"g":"b","s":"k","p":"4.0","r":5.1,"y":0.51},{"g":"b","s":"k","p":"4.0","r":5.3,"y":0.51},{"g":"b","s":"k","p":"4.0","r":5.5,"y":0.5},{"g":"b","s":"k","p":"4.0","r":5.7,"y":0.5},{"g":"b","s":"k","p":"4.0","r":5.85,"y":0.49},{"g":"b","s":"k","p":"4.0","r":6.0,"y":0.5},
{"g":"b","s":"k","p":"amb","r":0.5,"y":-0.24},{"g":"b","s":"k","p":"amb","r":1.5,"y":-0.24},{"g":"b","s":"k","p":"amb","r":1.55,"y":-0.204},{"g":"b","s":"k","p":"amb","r":1.6,"y":-0.103},{"g":"b","s":"k","p":"amb","r":1.65,"y":0.106},{"g":"b","s":"k","p":"amb","r":1.7,"y":0.379},{"g":"b","s":"k","p":"amb","r":1.75,"y":0.625},{"g":"b","s":"k","p":"amb","r":1.78,"y":0.67},{"g":"b","s":"k","p":"amb","r":1.82,"y":0.608},{"g":"b","s":"k","p":"amb","r":1.87,"y":0.382},{"g":"b","s":"k","p":"amb","r":1.92,"y":0.073},{"g":"b","s":"k","p":"amb","r":1.97,"y":-0.205},{"g":"b","s":"k","p":"amb","r":2.03,"y":-0.36},{"g":"b","s":"k","p":"amb","r":2.1,"y":-0.282},{"g":"b","s":"k","p":"amb","r":2.17,"y":-0.152},{"g":"b","s":"k","p":"amb","r":2.26,"y":-0.1},{"g":"b","s":"k","p":"amb","r":2.34,"y":-0.16},{"g":"b","s":"k","p":"amb","r":2.42,"y":-0.22},{"g":"b","s":"k","p":"amb","r":2.5,"y":-0.13},{"g":"b","s":"k","p":"amb","r":2.58,"y":0.032},{"g":"b","s":"k","p":"amb","r":2.66,"y":0.212},{"g":"b","s":"k","p":"amb","r":2.74,"y":0.35},{"g":"b","s":"k","p":"amb","r":2.82,"y":0.38},{"g":"b","s":"k","p":"amb","r":2.9,"y":0.32},{"g":"b","s":"k","p":"amb","r":2.98,"y":0.218},{"g":"b","s":"k","p":"amb","r":3.06,"y":0.029},{"g":"b","s":"k","p":"amb","r":3.14,"y":-0.117},{"g":"b","s":"k","p":"amb","r":3.22,"y":-0.16},{"g":"b","s":"k","p":"amb","r":3.32,"y":-0.08},{"g":"b","s":"k","p":"amb","r":3.42,"y":-0.06},{"g":"b","s":"k","p":"amb","r":3.55,"y":-0.07},{"g":"b","s":"k","p":"amb","r":3.68,"y":-0.04},{"g":"b","s":"k","p":"amb","r":3.8,"y":-0.05},{"g":"b","s":"k","p":"amb","r":3.92,"y":-0.02},{"g":"b","s":"k","p":"amb","r":4.1,"y":-0.01},{"g":"b","s":"k","p":"amb","r":4.3,"y":0.02},{"g":"b","s":"k","p":"amb","r":4.45,"y":0.05},{"g":"b","s":"k","p":"amb","r":4.55,"y":0.01},{"g":"b","s":"k","p":"amb","r":4.7,"y":0.0},{"g":"b","s":"k","p":"amb","r":4.9,"y":0.01},{"g":"b","s":"k","p":"amb","r":5.1,"y":0.02},{"g":"b","s":"k","p":"amb","r":5.3,"y":0.04},{"g":"b","s":"k","p":"amb","r":5.5,"y":0.04},{"g":"b","s":"k","p":"amb","r":5.7,"y":0.01},{"g":"b","s":"k","p":"amb","r":5.85,"y":-0.01},{"g":"b","s":"k","p":"amb","r":6.0,"y":0.0},

{"g":"b","s":"g","p":"8.0","r":0.5,"y":1.781},{"g":"b","s":"g","p":"8.0","r":0.61,"y":1.69},{"g":"b","s":"g","p":"8.0","r":0.72,"y":1.76},{"g":"b","s":"g","p":"8.0","r":0.82,"y":1.83},{"g":"b","s":"g","p":"8.0","r":0.93,"y":1.76},{"g":"b","s":"g","p":"8.0","r":1.04,"y":1.69},{"g":"b","s":"g","p":"8.0","r":1.14,"y":1.76},{"g":"b","s":"g","p":"8.0","r":1.25,"y":1.83},{"g":"b","s":"g","p":"8.0","r":1.35,"y":1.76},{"g":"b","s":"g","p":"8.0","r":1.44,"y":1.69},{"g":"b","s":"g","p":"8.0","r":1.5,"y":1.711},{"g":"b","s":"g","p":"8.0","r":1.55,"y":1.785},{"g":"b","s":"g","p":"8.0","r":1.6,"y":1.853},{"g":"b","s":"g","p":"8.0","r":1.65,"y":1.996},{"g":"b","s":"g","p":"8.0","r":1.7,"y":2.182},{"g":"b","s":"g","p":"8.0","r":1.75,"y":2.349},{"g":"b","s":"g","p":"8.0","r":1.78,"y":2.38},{"g":"b","s":"g","p":"8.0","r":1.82,"y":2.336},{"g":"b","s":"g","p":"8.0","r":1.87,"y":2.173},{"g":"b","s":"g","p":"8.0","r":1.92,"y":1.951},{"g":"b","s":"g","p":"8.0","r":1.97,"y":1.751},{"g":"b","s":"g","p":"8.0","r":2.03,"y":1.64},{"g":"b","s":"g","p":"8.0","r":2.1,"y":1.712},{"g":"b","s":"g","p":"8.0","r":2.17,"y":1.832},{"g":"b","s":"g","p":"8.0","r":2.26,"y":1.88},{"g":"b","s":"g","p":"8.0","r":2.34,"y":1.815},{"g":"b","s":"g","p":"8.0","r":2.42,"y":1.75},{"g":"b","s":"g","p":"8.0","r":2.5,"y":1.825},{"g":"b","s":"g","p":"8.0","r":2.58,"y":1.96},{"g":"b","s":"g","p":"8.0","r":2.66,"y":2.11},{"g":"b","s":"g","p":"8.0","r":2.74,"y":2.22},{"g":"b","s":"g","p":"8.0","r":2.82,"y":2.25},{"g":"b","s":"g","p":"8.0","r":2.9,"y":2.19},{"g":"b","s":"g","p":"8.0","r":2.98,"y":2.157},{"g":"b","s":"g","p":"8.0","r":3.06,"y":2.049},{"g":"b","s":"g","p":"8.0","r":3.14,"y":1.965},{"g":"b","s":"g","p":"8.0","r":3.22,"y":1.94},{"g":"b","s":"g","p":"8.0","r":3.32,"y":1.96},{"g":"b","s":"g","p":"8.0","r":3.42,"y":1.98},{"g":"b","s":"g","p":"8.0","r":3.55,"y":1.97},{"g":"b","s":"g","p":"8.0","r":3.68,"y":1.96},{"g":"b","s":"g","p":"8.0","r":3.8,"y":1.96},{"g":"b","s":"g","p":"8.0","r":3.92,"y":1.97},{"g":"b","s":"g","p":"8.0","r":4.1,"y":1.99},{"g":"b","s":"g","p":"8.0","r":4.3,"y":2.0},{"g":"b","s":"g","p":"8.0","r":4.5,"y":1.99},{"g":"b","s":"g","p":"8.0","r":4.7,"y":1.98},{"g":"b","s":"g","p":"8.0","r":4.9,"y":1.99},{"g":"b","s":"g","p":"8.0","r":5.1,"y":2.0},{"g":"b","s":"g","p":"8.0","r":5.3,"y":2.0},{"g":"b","s":"g","p":"8.0","r":5.5,"y":2.0},{"g":"b","s":"g","p":"8.0","r":5.7,"y":1.99},{"g":"b","s":"g","p":"8.0","r":5.85,"y":1.98},{"g":"b","s":"g","p":"8.0","r":6.0,"y":1.97},
{"g":"b","s":"g","p":"6.8","r":0.5,"y":1.284},{"g":"b","s":"g","p":"6.8","r":0.61,"y":1.18},{"g":"b","s":"g","p":"6.8","r":0.72,"y":1.26},{"g":"b","s":"g","p":"6.8","r":0.82,"y":1.34},{"g":"b","s":"g","p":"6.8","r":0.93,"y":1.26},{"g":"b","s":"g","p":"6.8","r":1.04,"y":1.18},{"g":"b","s":"g","p":"6.8","r":1.14,"y":1.26},{"g":"b","s":"g","p":"6.8","r":1.25,"y":1.34},{"g":"b","s":"g","p":"6.8","r":1.35,"y":1.26},{"g":"b","s":"g","p":"6.8","r":1.44,"y":1.18},{"g":"b","s":"g","p":"6.8","r":1.5,"y":1.204},{"g":"b","s":"g","p":"6.8","r":1.55,"y":1.285},{"g":"b","s":"g","p":"6.8","r":1.6,"y":1.353},{"g":"b","s":"g","p":"6.8","r":1.65,"y":1.496},{"g":"b","s":"g","p":"6.8","r":1.7,"y":1.682},{"g":"b","s":"g","p":"6.8","r":1.75,"y":1.849},{"g":"b","s":"g","p":"6.8","r":1.78,"y":1.88},{"g":"b","s":"g","p":"6.8","r":1.82,"y":1.835},{"g":"b","s":"g","p":"6.8","r":1.87,"y":1.67},{"g":"b","s":"g","p":"6.8","r":1.92,"y":1.445},{"g":"b","s":"g","p":"6.8","r":1.97,"y":1.2425},{"g":"b","s":"g","p":"6.8","r":2.03,"y":1.13},{"g":"b","s":"g","p":"6.8","r":2.1,"y":1.205},{"g":"b","s":"g","p":"6.8","r":2.17,"y":1.33},{"g":"b","s":"g","p":"6.8","r":2.26,"y":1.38},{"g":"b","s":"g","p":"6.8","r":2.34,"y":1.33},{"g":"b","s":"g","p":"6.8","r":2.42,"y":1.28},{"g":"b","s":"g","p":"6.8","r":2.5,"y":1.352},{"g":"b","s":"g","p":"6.8","r":2.58,"y":1.482},{"g":"b","s":"g","p":"6.8","r":2.66,"y":1.626},{"g":"b","s":"g","p":"6.8","r":2.74,"y":1.73},{"g":"b","s":"g","p":"6.8","r":2.82,"y":1.76},{"g":"b","s":"g","p":"6.8","r":2.9,"y":1.7},{"g":"b","s":"g","p":"6.8","r":2.98,"y":1.661},{"g":"b","s":"g","p":"6.8","r":3.06,"y":1.5455},{"g":"b","s":"g","p":"6.8","r":3.14,"y":1.456},{"g":"b","s":"g","p":"6.8","r":3.22,"y":1.43},{"g":"b","s":"g","p":"6.8","r":3.32,"y":1.45},{"g":"b","s":"g","p":"6.8","r":3.42,"y":1.47},{"g":"b","s":"g","p":"6.8","r":3.55,"y":1.46},{"g":"b","s":"g","p":"6.8","r":3.68,"y":1.45},{"g":"b","s":"g","p":"6.8","r":3.8,"y":1.46},{"g":"b","s":"g","p":"6.8","r":3.92,"y":1.47},{"g":"b","s":"g","p":"6.8","r":4.1,"y":1.49},{"g":"b","s":"g","p":"6.8","r":4.3,"y":1.5},{"g":"b","s":"g","p":"6.8","r":4.5,"y":1.5},{"g":"b","s":"g","p":"6.8","r":4.7,"y":1.49},{"g":"b","s":"g","p":"6.8","r":4.9,"y":1.49},{"g":"b","s":"g","p":"6.8","r":5.1,"y":1.5},{"g":"b","s":"g","p":"6.8","r":5.3,"y":1.5},{"g":"b","s":"g","p":"6.8","r":5.5,"y":1.5},{"g":"b","s":"g","p":"6.8","r":5.7,"y":1.49},{"g":"b","s":"g","p":"6.8","r":5.85,"y":1.48},{"g":"b","s":"g","p":"6.8","r":6.0,"y":1.48},
{"g":"b","s":"g","p":"5.9","r":0.5,"y":0.796},{"g":"b","s":"g","p":"5.9","r":0.61,"y":0.64},{"g":"b","s":"g","p":"5.9","r":0.72,"y":0.76},{"g":"b","s":"g","p":"5.9","r":0.82,"y":0.88},{"g":"b","s":"g","p":"5.9","r":0.93,"y":0.76},{"g":"b","s":"g","p":"5.9","r":1.04,"y":0.64},{"g":"b","s":"g","p":"5.9","r":1.14,"y":0.76},{"g":"b","s":"g","p":"5.9","r":1.25,"y":0.88},{"g":"b","s":"g","p":"5.9","r":1.35,"y":0.76},{"g":"b","s":"g","p":"5.9","r":1.44,"y":0.64},{"g":"b","s":"g","p":"5.9","r":1.5,"y":0.676},{"g":"b","s":"g","p":"5.9","r":1.55,"y":0.788},{"g":"b","s":"g","p":"5.9","r":1.6,"y":0.8635},{"g":"b","s":"g","p":"5.9","r":1.65,"y":1.022},{"g":"b","s":"g","p":"5.9","r":1.7,"y":1.229},{"g":"b","s":"g","p":"5.9","r":1.75,"y":1.4155},{"g":"b","s":"g","p":"5.9","r":1.78,"y":1.45},{"g":"b","s":"g","p":"5.9","r":1.82,"y":1.401},{"g":"b","s":"g","p":"5.9","r":1.87,"y":1.223},{"g":"b","s":"g","p":"5.9","r":1.92,"y":0.98},{"g":"b","s":"g","p":"5.9","r":1.97,"y":0.7615},{"g":"b","s":"g","p":"5.9","r":2.03,"y":0.64},{"g":"b","s":"g","p":"5.9","r":2.1,"y":0.709},{"g":"b","s":"g","p":"5.9","r":2.17,"y":0.824},{"g":"b","s":"g","p":"5.9","r":2.26,"y":0.87},{"g":"b","s":"g","p":"5.9","r":2.34,"y":0.83},{"g":"b","s":"g","p":"5.9","r":2.42,"y":0.79},{"g":"b","s":"g","p":"5.9","r":2.5,"y":0.862},{"g":"b","s":"g","p":"5.9","r":2.58,"y":0.992},{"g":"b","s":"g","p":"5.9","r":2.66,"y":1.136},{"g":"b","s":"g","p":"5.9","r":2.74,"y":1.24},{"g":"b","s":"g","p":"5.9","r":2.82,"y":1.27},{"g":"b","s":"g","p":"5.9","r":2.9,"y":1.21},{"g":"b","s":"g","p":"5.9","r":2.98,"y":1.171},{"g":"b","s":"g","p":"5.9","r":3.06,"y":1.0555},{"g":"b","s":"g","p":"5.9","r":3.14,"y":0.966},{"g":"b","s":"g","p":"5.9","r":3.22,"y":0.94},{"g":"b","s":"g","p":"5.9","r":3.32,"y":0.96},{"g":"b","s":"g","p":"5.9","r":3.42,"y":0.97},{"g":"b","s":"g","p":"5.9","r":3.55,"y":0.97},{"g":"b","s":"g","p":"5.9","r":3.68,"y":0.97},{"g":"b","s":"g","p":"5.9","r":3.8,"y":0.98},{"g":"b","s":"g","p":"5.9","r":3.92,"y":0.99},{"g":"b","s":"g","p":"5.9","r":4.1,"y":1.0},{"g":"b","s":"g","p":"5.9","r":4.3,"y":1.0},{"g":"b","s":"g","p":"5.9","r":4.5,"y":1.0},{"g":"b","s":"g","p":"5.9","r":4.7,"y":1.0},{"g":"b","s":"g","p":"5.9","r":4.9,"y":1.0},{"g":"b","s":"g","p":"5.9","r":5.1,"y":1.01},{"g":"b","s":"g","p":"5.9","r":5.3,"y":1.01},{"g":"b","s":"g","p":"5.9","r":5.5,"y":1.01},{"g":"b","s":"g","p":"5.9","r":5.7,"y":1.0},{"g":"b","s":"g","p":"5.9","r":5.85,"y":0.99},{"g":"b","s":"g","p":"5.9","r":6.0,"y":0.98},
{"g":"b","s":"g","p":"4.0","r":0.5,"y":0.302},{"g":"b","s":"g","p":"4.0","r":0.61,"y":0.12},{"g":"b","s":"g","p":"4.0","r":0.72,"y":0.26},{"g":"b","s":"g","p":"4.0","r":0.82,"y":0.4},{"g":"b","s":"g","p":"4.0","r":0.93,"y":0.26},{"g":"b","s":"g","p":"4.0","r":1.04,"y":0.12},{"g":"b","s":"g","p":"4.0","r":1.14,"y":0.26},{"g":"b","s":"g","p":"4.0","r":1.25,"y":0.4},{"g":"b","s":"g","p":"4.0","r":1.35,"y":0.26},{"g":"b","s":"g","p":"4.0","r":1.44,"y":0.12},{"g":"b","s":"g","p":"4.0","r":1.5,"y":0.162},{"g":"b","s":"g","p":"4.0","r":1.55,"y":0.29},{"g":"b","s":"g","p":"4.0","r":1.6,"y":0.374},{"g":"b","s":"g","p":"4.0","r":1.65,"y":0.549},{"g":"b","s":"g","p":"4.0","r":1.7,"y":0.777},{"g":"b","s":"g","p":"4.0","r":1.75,"y":0.982},{"g":"b","s":"g","p":"4.0","r":1.78,"y":1.02},{"g":"b","s":"g","p":"4.0","r":1.82,"y":0.966},{"g":"b","s":"g","p":"4.0","r":1.87,"y":0.768},{"g":"b","s":"g","p":"4.0","r":1.92,"y":0.498},{"g":"b","s":"g","p":"4.0","r":1.97,"y":0.255},{"g":"b","s":"g","p":"4.0","r":2.03,"y":0.12},{"g":"b","s":"g","p":"4.0","r":2.1,"y":0.198},{"g":"b","s":"g","p":"4.0","r":2.17,"y":0.328},{"g":"b","s":"g","p":"4.0","r":2.26,"y":0.38},{"g":"b","s":"g","p":"4.0","r":2.34,"y":0.34},{"g":"b","s":"g","p":"4.0","r":2.42,"y":0.3},{"g":"b","s":"g","p":"4.0","r":2.5,"y":0.3705},{"g":"b","s":"g","p":"4.0","r":2.58,"y":0.497},{"g":"b","s":"g","p":"4.0","r":2.66,"y":0.638},{"g":"b","s":"g","p":"4.0","r":2.74,"y":0.74},{"g":"b","s":"g","p":"4.0","r":2.82,"y":0.77},{"g":"b","s":"g","p":"4.0","r":2.9,"y":0.71},{"g":"b","s":"g","p":"4.0","r":2.98,"y":0.65},{"g":"b","s":"g","p":"4.0","r":3.06,"y":0.51},{"g":"b","s":"g","p":"4.0","r":3.14,"y":0.402},{"g":"b","s":"g","p":"4.0","r":3.22,"y":0.37},{"g":"b","s":"g","p":"4.0","r":3.32,"y":0.4},{"g":"b","s":"g","p":"4.0","r":3.42,"y":0.44},{"g":"b","s":"g","p":"4.0","r":3.55,"y":0.46},{"g":"b","s":"g","p":"4.0","r":3.68,"y":0.46},{"g":"b","s":"g","p":"4.0","r":3.8,"y":0.46},{"g":"b","s":"g","p":"4.0","r":3.92,"y":0.47},{"g":"b","s":"g","p":"4.0","r":4.1,"y":0.49},{"g":"b","s":"g","p":"4.0","r":4.3,"y":0.49},{"g":"b","s":"g","p":"4.0","r":4.5,"y":0.5},{"g":"b","s":"g","p":"4.0","r":4.7,"y":0.5},{"g":"b","s":"g","p":"4.0","r":4.9,"y":0.5},{"g":"b","s":"g","p":"4.0","r":5.1,"y":0.51},{"g":"b","s":"g","p":"4.0","r":5.3,"y":0.51},{"g":"b","s":"g","p":"4.0","r":5.5,"y":0.51},{"g":"b","s":"g","p":"4.0","r":5.7,"y":0.5},{"g":"b","s":"g","p":"4.0","r":5.85,"y":0.5},{"g":"b","s":"g","p":"4.0","r":6.0,"y":0.5},
{"g":"b","s":"g","p":"amb","r":0.5,"y":-0.204},{"g":"b","s":"g","p":"amb","r":0.61,"y":-0.36},{"g":"b","s":"g","p":"amb","r":0.72,"y":-0.24},{"g":"b","s":"g","p":"amb","r":0.82,"y":-0.12},{"g":"b","s":"g","p":"amb","r":0.93,"y":-0.24},{"g":"b","s":"g","p":"amb","r":1.04,"y":-0.36},{"g":"b","s":"g","p":"amb","r":1.14,"y":-0.24},{"g":"b","s":"g","p":"amb","r":1.25,"y":-0.12},{"g":"b","s":"g","p":"amb","r":1.35,"y":-0.24},{"g":"b","s":"g","p":"amb","r":1.44,"y":-0.36},{"g":"b","s":"g","p":"amb","r":1.5,"y":-0.324},{"g":"b","s":"g","p":"amb","r":1.55,"y":-0.198},{"g":"b","s":"g","p":"amb","r":1.6,"y":-0.084},{"g":"b","s":"g","p":"amb","r":1.65,"y":0.155},{"g":"b","s":"g","p":"amb","r":1.7,"y":0.467},{"g":"b","s":"g","p":"amb","r":1.75,"y":0.748},{"g":"b","s":"g","p":"amb","r":1.78,"y":0.8},{"g":"b","s":"g","p":"amb","r":1.82,"y":0.727},{"g":"b","s":"g","p":"amb","r":1.87,"y":0.458},{"g":"b","s":"g","p":"amb","r":1.92,"y":0.092},{"g":"b","s":"g","p":"amb","r":1.97,"y":-0.237},{"g":"b","s":"g","p":"amb","r":2.03,"y":-0.42},{"g":"b","s":"g","p":"amb","r":2.1,"y":-0.336},{"g":"b","s":"g","p":"amb","r":2.17,"y":-0.196},{"g":"b","s":"g","p":"amb","r":2.26,"y":-0.14},{"g":"b","s":"g","p":"amb","r":2.34,"y":-0.18},{"g":"b","s":"g","p":"amb","r":2.42,"y":-0.22},{"g":"b","s":"g","p":"amb","r":2.5,"y":-0.139},{"g":"b","s":"g","p":"amb","r":2.58,"y":0.007},{"g":"b","s":"g","p":"amb","r":2.66,"y":0.169},{"g":"b","s":"g","p":"amb","r":2.74,"y":0.29},{"g":"b","s":"g","p":"amb","r":2.82,"y":0.32},{"g":"b","s":"g","p":"amb","r":2.9,"y":0.26},{"g":"b","s":"g","p":"amb","r":2.98,"y":0.164},{"g":"b","s":"g","p":"amb","r":3.06,"y":-0.018},{"g":"b","s":"g","p":"amb","r":3.14,"y":-0.158},{"g":"b","s":"g","p":"amb","r":3.22,"y":-0.2},{"g":"b","s":"g","p":"amb","r":3.32,"y":-0.14},{"g":"b","s":"g","p":"amb","r":3.42,"y":-0.1},{"g":"b","s":"g","p":"amb","r":3.55,"y":-0.07},{"g":"b","s":"g","p":"amb","r":3.68,"y":-0.05},{"g":"b","s":"g","p":"amb","r":3.8,"y":-0.04},{"g":"b","s":"g","p":"amb","r":3.92,"y":-0.02},{"g":"b","s":"g","p":"amb","r":4.1,"y":0.0},{"g":"b","s":"g","p":"amb","r":4.3,"y":0.02},{"g":"b","s":"g","p":"amb","r":4.45,"y":0.03},{"g":"b","s":"g","p":"amb","r":4.55,"y":0.03},{"g":"b","s":"g","p":"amb","r":4.7,"y":0.02},{"g":"b","s":"g","p":"amb","r":4.9,"y":0.02},{"g":"b","s":"g","p":"amb","r":5.1,"y":0.03},{"g":"b","s":"g","p":"amb","r":5.3,"y":0.04},{"g":"b","s":"g","p":"amb","r":5.5,"y":0.05},{"g":"b","s":"g","p":"amb","r":5.7,"y":0.03},{"g":"b","s":"g","p":"amb","r":5.85,"y":0.01},{"g":"b","s":"g","p":"amb","r":6.0,"y":0.0},

{"g":"b","s":"r","p":"8.0","r":0.5,"y":1.695},{"g":"b","s":"r","p":"8.0","r":0.56,"y":1.65},{"g":"b","s":"r","p":"8.0","r":0.66,"y":1.74},{"g":"b","s":"r","p":"8.0","r":0.76,"y":1.83},{"g":"b","s":"r","p":"8.0","r":0.87,"y":1.74},{"g":"b","s":"r","p":"8.0","r":0.97,"y":1.65},{"g":"b","s":"r","p":"8.0","r":1.08,"y":1.74},{"g":"b","s":"r","p":"8.0","r":1.19,"y":1.83},{"g":"b","s":"r","p":"8.0","r":1.3,"y":1.74},{"g":"b","s":"r","p":"8.0","r":1.4,"y":1.65},{"g":"b","s":"r","p":"8.0","r":1.47,"y":1.704},
{"g":"b","s":"r","p":"6.8","r":0.5,"y":1.19},{"g":"b","s":"r","p":"6.8","r":0.56,"y":1.14},{"g":"b","s":"r","p":"6.8","r":0.66,"y":1.24},{"g":"b","s":"r","p":"6.8","r":0.76,"y":1.34},{"g":"b","s":"r","p":"6.8","r":0.87,"y":1.24},{"g":"b","s":"r","p":"6.8","r":0.97,"y":1.14},{"g":"b","s":"r","p":"6.8","r":1.08,"y":1.24},{"g":"b","s":"r","p":"6.8","r":1.19,"y":1.34},{"g":"b","s":"r","p":"6.8","r":1.3,"y":1.24},{"g":"b","s":"r","p":"6.8","r":1.4,"y":1.14},{"g":"b","s":"r","p":"6.8","r":1.47,"y":1.2},
{"g":"b","s":"r","p":"5.9","r":0.5,"y":0.65},{"g":"b","s":"r","p":"5.9","r":0.56,"y":0.56},{"g":"b","s":"r","p":"5.9","r":0.66,"y":0.74},{"g":"b","s":"r","p":"5.9","r":0.76,"y":0.92},{"g":"b","s":"r","p":"5.9","r":0.87,"y":0.74},{"g":"b","s":"r","p":"5.9","r":0.97,"y":0.56},{"g":"b","s":"r","p":"5.9","r":1.08,"y":0.74},{"g":"b","s":"r","p":"5.9","r":1.19,"y":0.92},{"g":"b","s":"r","p":"5.9","r":1.3,"y":0.74},{"g":"b","s":"r","p":"5.9","r":1.4,"y":0.56},{"g":"b","s":"r","p":"5.9","r":1.47,"y":0.668},
{"g":"b","s":"r","p":"4.0","r":0.5,"y":0.14},{"g":"b","s":"r","p":"4.0","r":0.56,"y":0.04},{"g":"b","s":"r","p":"4.0","r":0.66,"y":0.24},{"g":"b","s":"r","p":"4.0","r":0.76,"y":0.44},{"g":"b","s":"r","p":"4.0","r":0.87,"y":0.24},{"g":"b","s":"r","p":"4.0","r":0.97,"y":0.04},{"g":"b","s":"r","p":"4.0","r":1.08,"y":0.24},{"g":"b","s":"r","p":"4.0","r":1.19,"y":0.44},{"g":"b","s":"r","p":"4.0","r":1.3,"y":0.24},{"g":"b","s":"r","p":"4.0","r":1.4,"y":0.04},{"g":"b","s":"r","p":"4.0","r":1.47,"y":0.16},
{"g":"b","s":"r","p":"amb","r":0.5,"y":-0.335},{"g":"b","s":"r","p":"amb","r":0.56,"y":-0.41},{"g":"b","s":"r","p":"amb","r":0.66,"y":-0.26},{"g":"b","s":"r","p":"amb","r":0.76,"y":-0.11},{"g":"b","s":"r","p":"amb","r":0.87,"y":-0.26},{"g":"b","s":"r","p":"amb","r":0.97,"y":-0.41},{"g":"b","s":"r","p":"amb","r":1.08,"y":-0.26},{"g":"b","s":"r","p":"amb","r":1.19,"y":-0.11},{"g":"b","s":"r","p":"amb","r":1.3,"y":-0.26},{"g":"b","s":"r","p":"amb","r":1.4,"y":-0.41},{"g":"b","s":"r","p":"amb","r":1.47,"y":-0.32},

{"g":"a","s":"t","p":"8.0","r":5.15,"y":2.22,"lab":"8.0 GPa"},{"g":"a","s":"t","p":"6.8","r":5.15,"y":1.71,"lab":"6.8 GPa"},{"g":"a","s":"t","p":"5.9","r":5.15,"y":1.19,"lab":"5.9 GPa"},{"g":"a","s":"t","p":"4.0","r":5.15,"y":0.68,"lab":"4.0 GPa"},{"g":"a","s":"t","p":"amb","r":5.15,"y":0.17,"lab":"ambient"},{"g":"a","s":"t","p":"x","r":0.94,"y":2.64,"lab":"(a)"},
{"g":"b","s":"t","p":"8.0","r":5.17,"y":2.17,"lab":"8.0 GPa"},{"g":"b","s":"t","p":"6.8","r":5.17,"y":1.66,"lab":"6.8 GPa"},{"g":"b","s":"t","p":"5.9","r":5.25,"y":1.14,"lab":"5.9 GPa"},{"g":"b","s":"t","p":"4.0","r":5.2,"y":0.67,"lab":"4.0 GPa"},{"g":"b","s":"t","p":"amb","r":5.15,"y":0.19,"lab":"ambient"},{"g":"b","s":"t","p":"x","r":0.94,"y":2.25,"lab":"(b)"}
]},
"vconcat":[
{"width":255,"height":170,
"transform":[{"filter":"datum.g == 'a'"}],
"resolve":{"axis":{"x":"independent","y":"independent"}},
"layer":[
{"transform":[{"filter":"datum.s == 'r'"}],
"mark":{"type":"line","color":"#ee6a6a","strokeWidth":1,"strokeDash":[3,2],"interpolate":"monotone","clip":true},
"encoding":{
"x":{"field":"r","type":"quantitative","scale":{"domain":[0.5,6],"nice":false},"axis":{"orient":"top","values":[1,1.5,2,2.5,3,3.5,4,4.5,5,5.5,6],"labels":false,"title":null,"tickSize":-4}},
"y":{"field":"y","type":"quantitative","scale":{"domain":[-0.4,3.0],"nice":false,"zero":false},"axis":{"orient":"right","values":[0,0.5,1,1.5,2,2.5,3],"labels":false,"title":null,"tickSize":-5}},
"detail":{"field":"p"}}},
{"transform":[{"filter":"datum.s == 'g'"}],
"mark":{"type":"line","color":"#4fdc3a","strokeWidth":1.6,"interpolate":"monotone","clip":true},
"encoding":{
"x":{"field":"r","type":"quantitative","axis":null},
"y":{"field":"y","type":"quantitative","axis":null},
"detail":{"field":"p"}}},
{"transform":[{"filter":"datum.s == 'k'"}],
"mark":{"type":"line","color":"black","strokeWidth":1.3,"interpolate":"monotone","clip":true},
"encoding":{
"x":{"field":"r","type":"quantitative","axis":{"orient":"bottom","values":[1,1.5,2,2.5,3,3.5,4,4.5,5,5.5,6],"labels":false,"title":null,"tickSize":-4}},
"y":{"field":"y","type":"quantitative","axis":{"orient":"left","values":[0,0.5,1,1.5,2,2.5,3],"format":".1f","tickSize":-5,"labelPadding":9,"title":"ΔGGe(r) (barn)","titlePadding":3}},
"detail":{"field":"p"}}},
{"transform":[{"filter":"datum.s == 't'"}],
"mark":{"type":"text","fontSize":11.5,"color":"black","font":"Liberation Serif"},
"encoding":{
"x":{"field":"r","type":"quantitative","axis":null},
"y":{"field":"y","type":"quantitative","axis":null},
"text":{"field":"lab"}}}
]},
{"width":255,"height":165,
"transform":[{"filter":"datum.g == 'b'"}],
"resolve":{"axis":{"x":"independent","y":"independent"}},
"layer":[
{"transform":[{"filter":"datum.s == 'r'"}],
"mark":{"type":"line","color":"#ee6a6a","strokeWidth":1,"strokeDash":[3,2],"interpolate":"monotone","clip":true},
"encoding":{
"x":{"field":"r","type":"quantitative","scale":{"domain":[0.5,6],"nice":false},"axis":{"orient":"top","values":[1,1.5,2,2.5,3,3.5,4,4.5,5,5.5,6],"labels":false,"title":null,"tickSize":-4}},
"y":{"field":"y","type":"quantitative","scale":{"domain":[-0.4,2.5],"nice":false,"zero":false},"axis":{"orient":"right","values":[0,0.5,1,1.5,2,2.5],"labels":false,"title":null,"tickSize":-5}},
"detail":{"field":"p"}}},
{"transform":[{"filter":"datum.s == 'g'"}],
"mark":{"type":"line","color":"#4fdc3a","strokeWidth":1.6,"interpolate":"monotone","clip":true},
"encoding":{
"x":{"field":"r","type":"quantitative","axis":null},
"y":{"field":"y","type":"quantitative","axis":null},
"detail":{"field":"p"}}},
{"transform":[{"filter":"datum.s == 'k'"}],
"mark":{"type":"line","color":"black","strokeWidth":1.3,"interpolate":"monotone","clip":true},
"encoding":{
"x":{"field":"r","type":"quantitative","axis":{"orient":"bottom","values":[1,1.5,2,2.5,3,3.5,4,4.5,5,5.5,6],"labelExpr":"datum.value % 1 == 0 ? format(datum.value, 'd') : ''","labelFlush":false,"labelPadding":6,"labelFontSize":11.5,"title":"Distance r (Å)","titleFontSize":12.5,"titlePadding":4,"tickSize":-4}},
"y":{"field":"y","type":"quantitative","axis":{"orient":"left","values":[0,0.5,1,1.5,2,2.5],"format":".1f","tickSize":-5,"labelPadding":9,"title":"ΔGO(r) (barn)","titlePadding":3}},
"detail":{"field":"p"}}},
{"transform":[{"filter":"datum.s == 't'"}],
"mark":{"type":"text","fontSize":11.5,"color":"black","font":"Liberation Serif"},
"encoding":{
"x":{"field":"r","type":"quantitative","axis":null},
"y":{"field":"y","type":"quantitative","axis":null},
"text":{"field":"lab"}}}
]}
]}
